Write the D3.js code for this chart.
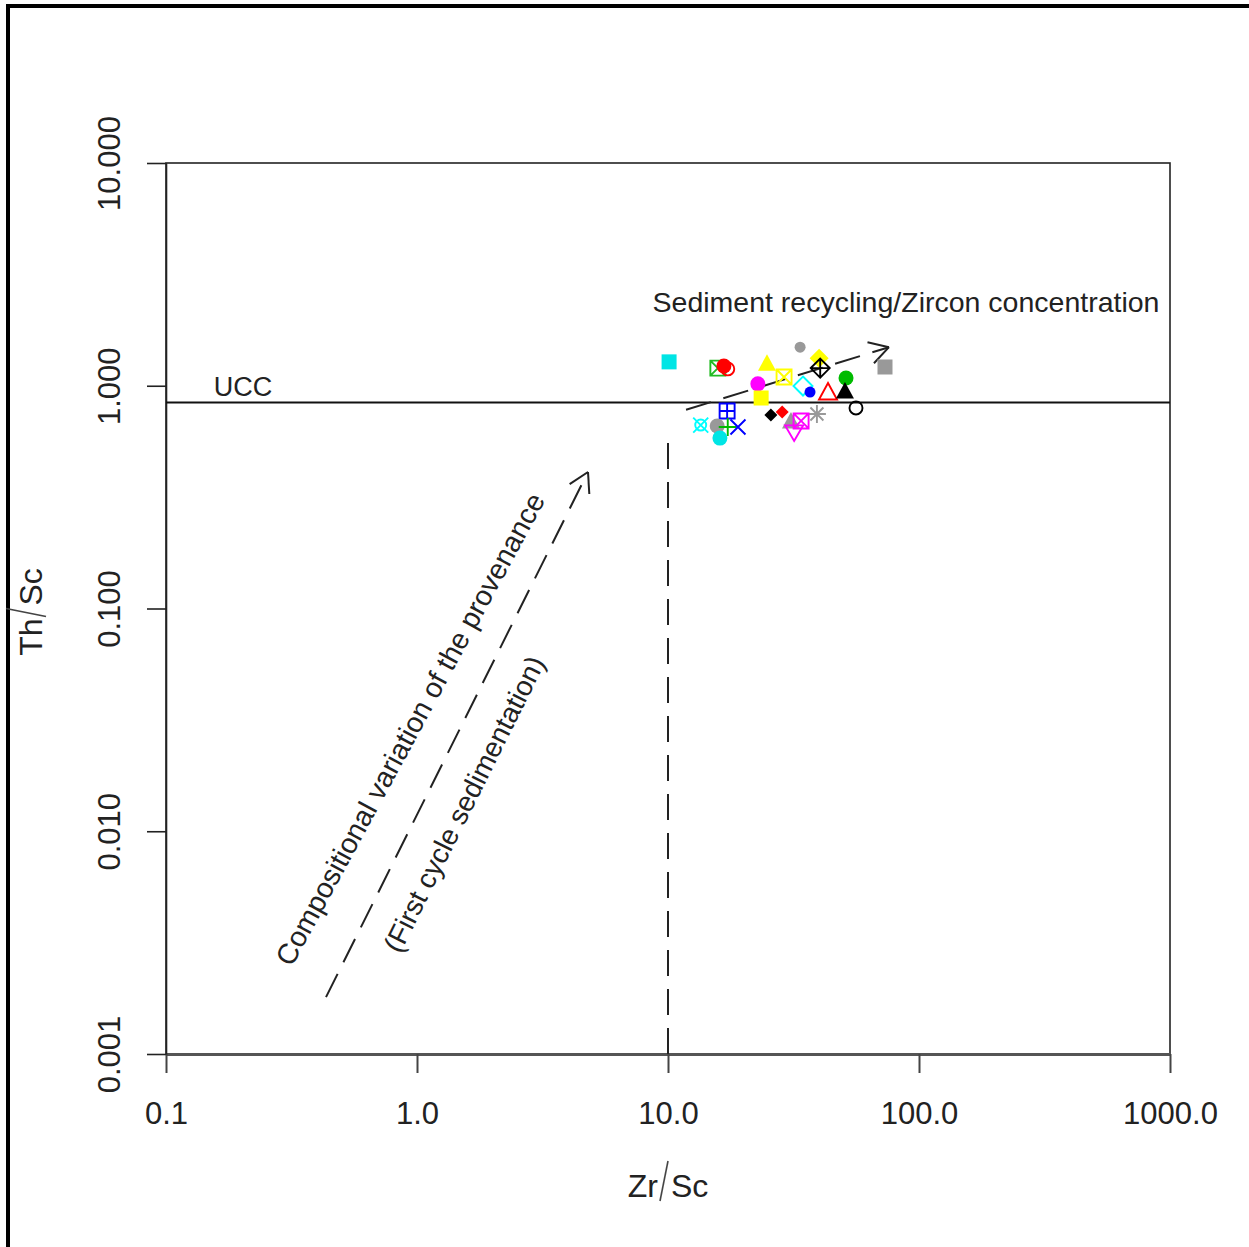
<!DOCTYPE html>
<html>
<head>
<meta charset="utf-8">
<script src="https://cdn.jsdelivr.net/npm/d3@7"></script>
<style>
  html, body { margin: 0; padding: 0; background: #fff; }
  svg { display: block; }
  text { font-family: "Liberation Sans", Arial, sans-serif; fill: #222; }
</style>
</head>
<body>
<svg id="chart" width="1249" height="1247"></svg>
<script>
// ---------------- data ----------------
const xTickValues = [0.1, 1, 10, 100, 1000];
const xTickLabels = ["0.1", "1.0", "10.0", "100.0", "1000.0"];
const yTickValues = [0.001, 0.01, 0.1, 1, 10];
const yTickLabels = ["0.001", "0.010", "0.100", "1.000", "10.000"];

// Zr/Sc and Th/Sc of the samples
const zrSc = [10.1, 15.8, 16.7, 17.3, 24.8, 22.8, 23.5, 17.2, 13.5, 15.7,
              17.3, 19.0, 16.1, 33.6, 29.0, 34.5, 36.8, 40.0, 40.4, 43.4,
              51.2, 50.7, 73.2, 56.1, 39.2, 25.7, 28.5, 30.9, 33.9, 31.8];
const thSc = [1.28, 1.20, 1.227, 1.19, 1.25, 1.02, 0.881, 0.770, 0.666, 0.660,
              0.653, 0.653, 0.582, 1.49, 1.095, 0.997, 0.937, 1.33, 1.20, 0.928,
              1.083, 0.937, 1.214, 0.795, 0.747, 0.739, 0.762, 0.688, 0.695, 0.627];

// marker style per sample (symbol type, colour)
const markerShape = ["fsq", "sqx", "fcirc", "ocirc", "ftri", "fcirc", "fsq", "sqplus", "circx", "fcirc",
                     "plus", "x", "fcirc", "fcircS", "sqx", "odia", "fcircS", "fdia", "diaplus", "otri",
                     "fcirc", "ftri", "fsq", "ocirc", "star", "fdiaS", "fdiaS", "ftri", "sqx", "dtri"];
const markerColor = ["#00e5e5", "#22bb22", "#ff0000", "#ff0000", "#ffff00", "#ff00ff", "#ffff00", "#0000ff", "#00ffff", "#999999",
                     "#00bb00", "#0000ff", "#00e5e5", "#999999", "#ffff00", "#00ffff", "#0000ff", "#ffff00", "#000000", "#ff0000",
                     "#00bb00", "#000000", "#999999", "#000000", "#999999", "#000000", "#ff0000", "#999999", "#ff00ff", "#ff00ff"];

const uccThSc = 0.84;
// reference lines (data coordinates)
const provenanceArrow = [[0.434, 0.0018], [4.8, 0.41]];
const recyclingArrow = [[11.8, 0.78], [75.9, 1.49]];
const zrLimit = [[10, 0.001], [10, 0.6]];

// ---------------- drawing ----------------
const svg = d3.select("#chart");
svg.append("rect").attr("width", 1249).attr("height", 1247).attr("fill", "#fff");
// outer frame (top + left edges)
svg.append("line").attr("x1", 6).attr("x2", 1249).attr("y1", 6).attr("y2", 6)
  .attr("stroke", "#000").attr("stroke-width", 4);
svg.append("line").attr("x1", 8).attr("x2", 8).attr("y1", 4).attr("y2", 1247)
  .attr("stroke", "#000").attr("stroke-width", 4);

const L = 166, R = 1170, T = 163, B = 1054;
const x = d3.scaleLog().domain([0.1, 1000]).range([L, R]);
const y = d3.scaleLog().domain([0.001, 10]).range([B, T]);

// plot box
svg.append("rect").attr("x", L).attr("y", T).attr("width", R - L).attr("height", B - T)
  .attr("fill", "none").attr("stroke", "#222").attr("stroke-width", 1.6);

// x axis
const xAxis = svg.append("g").attr("transform", `translate(0,${B})`)
  .call(d3.axisBottom(x).tickValues(xTickValues).tickSizeOuter(0).tickSizeInner(19)
    .tickPadding(0).tickFormat((d, i) => xTickLabels[i]));
xAxis.select(".domain").attr("stroke", "#555").attr("stroke-width", 3);
xAxis.selectAll(".tick line").attr("stroke", "#444").attr("stroke-width", 2);
xAxis.selectAll(".tick text").attr("y", 70).attr("dy", 0)
  .style("font-size", "31px").style("font-family", "Liberation Sans, Arial, sans-serif").attr("fill", "#222");

// y axis
const yAxis = svg.append("g").attr("transform", `translate(${L},0)`)
  .call(d3.axisLeft(y).tickValues(yTickValues).tickSizeOuter(0).tickSizeInner(19)
    .tickFormat((d, i) => yTickLabels[i]));
yAxis.select(".domain").attr("stroke", "#222").attr("stroke-width", 1.6);
yAxis.selectAll(".tick line").attr("stroke", "#222").attr("stroke-width", 1.6);
yAxis.selectAll(".tick text")
  .attr("transform", "rotate(-90)")
  .attr("x", 0).attr("y", -46).attr("dy", 0)
  .attr("text-anchor", "middle")
  .style("font-size", "31px").style("font-family", "Liberation Sans, Arial, sans-serif").attr("fill", "#222");

// axis titles
const xt = svg.append("g").attr("transform", `translate(${(L + R) / 2},1197)`);
xt.append("text").attr("x", -10).attr("text-anchor", "end").style("font-size", "32px").text("Zr");
xt.append("line").attr("x1", -8).attr("y1", 4).attr("x2", 0).attr("y2", -36)
  .attr("stroke", "#444").attr("stroke-width", 1.6);
xt.append("text").attr("x", 3).attr("text-anchor", "start").style("font-size", "32px").text("Sc");

const yt = svg.append("g").attr("transform", `translate(42,${(T + B) / 2}) rotate(-90)`);
yt.append("text").attr("x", -10).attr("text-anchor", "end").style("font-size", "32px").text("Th");
yt.append("line").attr("x1", -8).attr("y1", 4).attr("x2", 0).attr("y2", -36)
  .attr("stroke", "#444").attr("stroke-width", 1.6);
yt.append("text").attr("x", 3).attr("text-anchor", "start").style("font-size", "32px").text("Sc");

// UCC line
svg.append("line").attr("x1", L).attr("x2", R).attr("y1", y(uccThSc)).attr("y2", y(uccThSc))
  .attr("stroke", "#111").attr("stroke-width", 2);
svg.append("text").attr("x", x(0.155)).attr("y", y(uccThSc) - 7)
  .style("font-size", "27px").text("UCC");

// dashed lines with arrows
const dash = "26,13";
function dashedArrow(pts, head) {
  const [p0, p1] = pts.map(p => [x(p[0]), y(p[1])]);
  svg.append("line").attr("x1", p0[0]).attr("y1", p0[1]).attr("x2", p1[0]).attr("y2", p1[1])
    .attr("stroke", "#222").attr("stroke-width", 2).attr("stroke-dasharray", dash);
  if (head) {
    const ang = Math.atan2(p0[1] - p1[1], p0[0] - p1[0]);
    const len = 22, a = Math.PI / 6;
    [ang - a, ang + a].forEach(t => {
      svg.append("line").attr("x1", p1[0]).attr("y1", p1[1])
        .attr("x2", p1[0] + len * Math.cos(t)).attr("y2", p1[1] + len * Math.sin(t))
        .attr("stroke", "#222").attr("stroke-width", 2);
    });
  }
}
dashedArrow(provenanceArrow, true);
dashedArrow(recyclingArrow, true);
dashedArrow(zrLimit, false);

// annotations
svg.append("text").attr("x", 906).attr("y", 312).attr("text-anchor", "middle")
  .style("font-size", "28.5px").text("Sediment recycling/Zircon concentration");
svg.append("text").attr("transform", "translate(410,729) rotate(-61.5)")
  .attr("text-anchor", "middle").attr("dy", "0.35em")
  .style("font-size", "28.5px").text("Compositional variation of the provenance");
svg.append("text").attr("transform", "translate(464,804) rotate(-63.5)")
  .attr("text-anchor", "middle").attr("dy", "0.35em")
  .style("font-size", "28px").text("(First cycle sedimentation)");

// markers
function drawMarker(g, type, col) {
  const sw = 1.9;
  const open = (sel) => sel.attr("fill", "none").attr("stroke", col).attr("stroke-width", sw);
  switch (type) {
    case "fsq": g.append("rect").attr("x", -7.5).attr("y", -7.5).attr("width", 15).attr("height", 15).attr("fill", col); break;
    case "fcirc": g.append("circle").attr("r", 7.5).attr("fill", col); break;
    case "fcircS": g.append("circle").attr("r", 5.5).attr("fill", col); break;
    case "ocirc": open(g.append("circle").attr("r", 6.5)); break;
    case "ftri": g.append("path").attr("d", "M0,-10L9,6.5L-9,6.5Z").attr("fill", col); break;
    case "otri": open(g.append("path").attr("d", "M0,-10L9,6.5L-9,6.5Z")); break;
    case "dtri": open(g.append("path").attr("d", "M0,10L9,-5.5L-9,-5.5Z")); break;
    case "fdia": g.append("path").attr("d", "M0,-9.5L9.5,0L0,9.5L-9.5,0Z").attr("fill", col); break;
    case "fdiaS": g.append("path").attr("d", "M0,-6.5L6.5,0L0,6.5L-6.5,0Z").attr("fill", col); break;
    case "odia": open(g.append("path").attr("d", "M0,-9.5L9.5,0L0,9.5L-9.5,0Z")); break;
    case "diaplus": open(g.append("path").attr("d", "M0,-9.5L9.5,0L0,9.5L-9.5,0ZM-9.5,0L9.5,0M0,-9.5L0,9.5")); break;
    case "sqx": open(g.append("path").attr("d", "M-7.5,-7.5H7.5V7.5H-7.5ZM-7.5,-7.5L7.5,7.5M7.5,-7.5L-7.5,7.5")); break;
    case "sqplus": open(g.append("path").attr("d", "M-7.5,-7.5H7.5V7.5H-7.5ZM-7.5,0H7.5M0,-7.5V7.5")); break;
    case "circx": open(g.append("path").attr("d", "M-7.5,-7.5L7.5,7.5M7.5,-7.5L-7.5,7.5")); open(g.append("circle").attr("r", 5.5)); break;
    case "plus": open(g.append("path").attr("d", "M-9,0H9M0,-9V9")); break;
    case "x": open(g.append("path").attr("d", "M-7.5,-7.5L7.5,7.5M7.5,-7.5L-7.5,7.5")); break;
    case "star": open(g.append("path").attr("d", "M-9,0H9M0,-9V9M-6.5,-6.5L6.5,6.5M6.5,-6.5L-6.5,6.5")); break;
  }
}
zrSc.forEach((v, i) => {
  const g = svg.append("g").attr("transform", `translate(${x(v)},${y(thSc[i])})`);
  drawMarker(g, markerShape[i], markerColor[i]);
});
</script>
</body>
</html>
